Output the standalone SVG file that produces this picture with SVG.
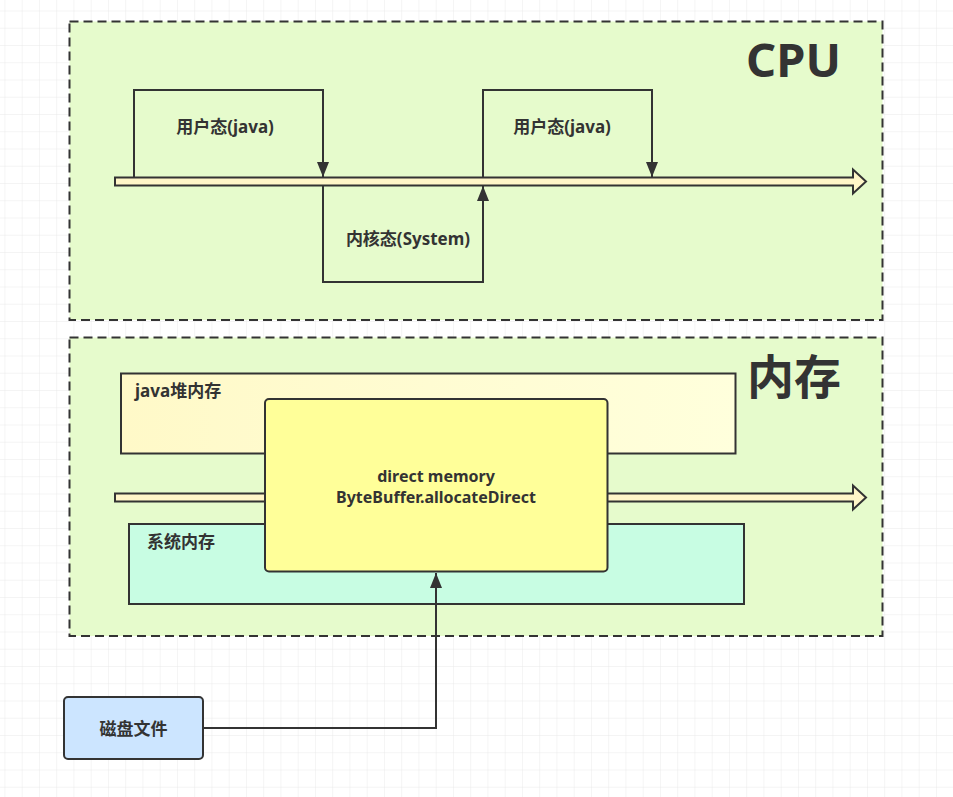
<svg xmlns="http://www.w3.org/2000/svg" width="953" height="797" viewBox="0 0 953 797">
<defs>
<pattern id="grid" x="21.7" y="10.5" width="17.25" height="17.25" patternUnits="userSpaceOnUse">
<path d="M0 0 V17.25 M0 0 H17.25" fill="none" stroke="#e9e9e9" stroke-width="1"/>
</pattern>
<linearGradient id="heapGrad" x1="0" y1="0" x2="1" y2="0">
<stop offset="0" stop-color="#fff9c8"/>
<stop offset="1" stop-color="#ffffdc"/>
</linearGradient>
<marker id="arrow" viewBox="0 0 15 12" refX="15" refY="6" markerWidth="15" markerHeight="12" markerUnits="userSpaceOnUse" orient="auto">
<path d="M0 0 L15 6 L0 12 Z" fill="#333"/>
</marker>
<style>
.container{fill:#e6fbcc;stroke:#333;stroke-width:2;stroke-dasharray:9 5}
.box{stroke:#333;stroke-width:2}
.line{fill:none;stroke:#333;stroke-width:2}
.block{fill:#fff6c8;stroke:#333;stroke-width:2;stroke-linejoin:miter}
.lbl{font-family:"Noto Sans","Noto Sans CJK SC",sans-serif;font-weight:bold;font-size:17px;fill:#333}
.lbl2{font-family:"Noto Sans","Noto Sans CJK SC",sans-serif;font-weight:bold;font-size:16px;fill:#333}
.title{font-family:"Noto Sans","Noto Sans CJK SC",sans-serif;font-weight:bold;font-size:47px;fill:#333}
</style>
</defs>
<rect width="953" height="797" fill="#ffffff"/>
<rect width="953" height="797" fill="url(#grid)"/>

<g id="cpu-container">
<rect class="container" x="69.5" y="21.5" width="813" height="298.5"/>
<text class="title" x="841" y="77" text-anchor="end">CPU</text>
</g>

<g id="mem-container">
<rect class="container" x="69.5" y="337.5" width="813" height="298.5"/>
<text class="title" x="841" y="394" text-anchor="end" font-size="45px">内存</text>
</g>

<g id="cpu-timeline">
<polygon class="block" points="115,177.5 853,177.5 853,169.5 866,181.5 853,193.5 853,185.5 115,185.5"/>
</g>

<g id="user-mode-1">
<text class="lbl" x="225" y="126" text-anchor="middle" dominant-baseline="central">用户态(java)</text>
</g>
<g id="kernel-mode">
<text class="lbl" x="408" y="238.5" text-anchor="middle" dominant-baseline="central">内核态(System)</text>
</g>
<g id="user-mode-2">
<text class="lbl" x="562" y="126" text-anchor="middle" dominant-baseline="central">用户态(java)</text>
</g>

<g id="java-heap">
<rect class="box" x="121" y="373.5" width="614.5" height="80" fill="url(#heapGrad)"/>
<text class="lbl" x="135" y="390" dominant-baseline="central">java堆内存</text>
</g>

<g id="system-memory">
<rect class="box" x="129" y="524" width="615" height="80" fill="#c8fde3"/>
<text class="lbl" x="147" y="541" dominant-baseline="central">系统内存</text>
</g>

<g id="mem-timeline">
<polygon class="block" points="115,493.5 853,493.5 853,485.5 866,497.5 853,509.5 853,501.5 115,501.5"/>
</g>

<g id="direct-memory">
<rect class="box" x="265" y="399" width="342.5" height="172.5" rx="4" fill="#ffff99"/>
<text class="lbl2" x="436" y="476" text-anchor="middle" dominant-baseline="central">direct memory</text>
<text class="lbl2" x="436" y="496.5" text-anchor="middle" dominant-baseline="central">ByteBuffer.allocateDirect</text>
</g>

<g id="disk-file">
<rect class="box" x="64" y="697" width="139" height="62" rx="4" fill="#cce5ff"/>
<text class="lbl" x="133.5" y="728" text-anchor="middle" dominant-baseline="central">磁盘文件</text>
</g>

<g id="connectors">
<path class="line" d="M134 177 V90 H323 V177" marker-end="url(#arrow)"/>
<path class="line" d="M323 186 V282 H483 V186" marker-end="url(#arrow)"/>
<path class="line" d="M483 177 V90 H652 V177" marker-end="url(#arrow)"/>
<path class="line" d="M203 728 H436 V573" marker-end="url(#arrow)"/>
</g>
</svg>
